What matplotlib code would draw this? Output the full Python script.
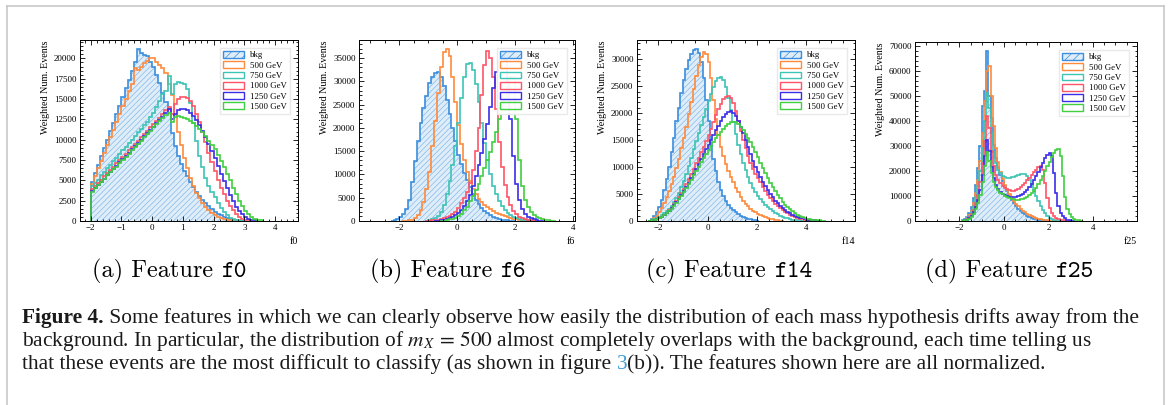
import numpy as np
import matplotlib
matplotlib.use("Agg")
import matplotlib.pyplot as plt
from matplotlib.patches import Patch
from matplotlib.lines import Line2D
from matplotlib.ticker import MultipleLocator

plt.rcParams['font.family'] = ['Liberation Serif', 'DejaVu Serif']
plt.rcParams['mathtext.fontset'] = 'stix'
plt.rcParams['hatch.linewidth'] = 0.5

labels = ["bkg", "500 GeV", "750 GeV", "1000 GeV", "1250 GeV", "1500 GeV"]
colors = ["#3b8ede", "#ff8a3c", "#3cc4b4", "#ff5468", "#3b2ee8", "#3fcf3f"]
BIN = 0.1   # bin width, counts below in thousands of weighted events

# ---- feature f0 (all series start at -2.0)
f0_start = [-2.0, -2.0, -2.0, -2.0, -2.0, -2.0]
f0_bkg = [4.8, 5.9, 6.9, 8.0, 9.0, 10.0, 11.1, 12.1, 13.2, 14.2, 15.3, 16.3, 17.4, 18.4, 19.5,
          21.2, 20.6, 20.4, 20.3, 19.6, 18.9, 18.0, 17.0, 15.8, 14.6, 13.8, 10.8, 9.2, 8.0, 7.0,
          6.2, 5.5, 4.8, 4.2, 3.6, 3.1, 2.6, 2.2, 1.8, 1.45, 1.15, 0.9, 0.7, 0.5, 0.35, 0.25,
          0.17, 0.1, 0.06, 0.03]
f0_500 = [4.6, 5.5, 6.5, 7.4, 8.4, 9.3, 10.3, 11.2, 12.2, 13.1, 14.1, 15.0, 16.0, 16.9, 18.8,
          18.6, 19.0, 19.4, 19.7, 20.1, 20.0, 19.6, 19.2, 18.8, 18.2, 16.8, 15.5, 13.0, 11.0, 9.3,
          7.8, 6.5, 5.3, 4.3, 3.5, 2.8, 2.2, 1.7, 1.3, 1.0, 0.7, 0.5, 0.35, 0.25, 0.15, 0.1,
          0.06, 0.03]
f0_750 = [4.3, 4.7, 5.1, 5.6, 6.0, 6.5, 6.9, 7.4, 7.8, 8.2, 8.7, 9.1, 9.6, 10.0, 10.4, 10.9,
          11.3, 11.8, 12.2, 12.8, 13.3, 14.0, 14.8, 15.6, 16.0, 17.8, 15.6, 16.8, 17.1, 17.0,
          16.8, 16.2, 14.5, 12.0, 9.8, 8.0, 6.6, 5.3, 4.3, 3.6, 2.9, 2.2, 1.6, 1.1, 0.7, 0.4,
          0.25, 0.15, 0.08, 0.04]
f0_1000 = [3.9, 4.3, 4.7, 5.1, 5.5, 5.9, 6.3, 6.7, 7.1, 7.5, 7.9, 8.3, 8.7, 9.1, 9.5, 9.9,
           10.3, 10.7, 11.1, 11.5, 11.9, 12.3, 12.7, 13.1, 13.6, 14.0, 13.2, 14.4, 15.0, 15.3,
           15.3, 15.1, 14.7, 14.1, 13.2, 12.2, 11.0, 9.7, 8.4, 7.2, 6.1, 5.1, 4.1, 3.3, 2.5,
           1.8, 1.3, 0.8, 0.5, 0.3, 0.15, 0.08]
f0_1250 = [3.7, 4.1, 4.4, 4.8, 5.2, 5.6, 6.0, 6.4, 6.8, 7.2, 7.6, 8.0, 8.4, 8.8, 9.2, 9.6,
           10.0, 10.4, 10.8, 11.2, 11.6, 12.0, 12.4, 12.8, 13.3, 13.8, 12.6, 13.2, 13.6, 13.8,
           13.8, 13.6, 13.3, 12.9, 12.4, 11.8, 11.1, 10.3, 9.5, 8.6, 7.7, 6.8, 5.8, 4.9, 4.0,
           3.2, 2.4, 1.7, 1.2, 0.8, 0.5, 0.3, 0.15, 0.07]
f0_1500 = [3.6, 4.0, 4.4, 4.8, 5.2, 5.6, 6.0, 6.4, 6.7, 7.1, 7.5, 7.9, 8.3, 8.7, 9.1, 9.5,
           9.9, 10.3, 10.7, 11.1, 11.5, 11.9, 12.3, 12.7, 13.0, 13.3, 12.2, 12.8, 12.9, 12.8,
           12.7, 12.5, 12.3, 12.0, 11.7, 11.3, 10.9, 10.4, 9.9, 9.4, 8.8, 8.1, 7.4, 6.6, 5.8,
           5.0, 4.1, 3.3, 2.5, 1.8, 1.2, 0.8, 0.5, 0.3, 0.15, 0.07]

# ---- feature f6
f6_start = [-2.3, -1.9, -1.1, -1.1, -0.8, -0.6]
f6_bkg = [0.05, 0.15, 0.4, 0.8, 1.5, 2.5, 4.5, 8.3, 12.8, 17.2, 21.0, 24.3, 26.9, 29.6, 31.0,
          31.8, 32.0, 31.0, 29.0, 26.0, 23.0, 20.0, 17.2, 14.2, 12.2, 10.4, 8.8, 7.2, 5.8, 4.6,
          3.6, 2.8, 2.2, 1.7, 1.3, 0.9, 0.6, 0.45, 0.3, 0.2, 0.15, 0.1, 0.06]
f6_500 = [0.05, 0.1, 0.18, 0.3, 0.7, 1.3, 2.3, 4.0, 6.8, 10.5, 16.0, 21.5, 27.5, 33.0, 36.2,
          37.0, 35.5, 31.0, 25.5, 20.5, 16.5, 13.2, 10.5, 8.5, 6.9, 5.7, 4.8, 4.0, 3.4, 2.9,
          2.5, 2.1, 1.8, 1.5, 1.2, 1.0, 0.8, 0.65, 0.5, 0.4, 0.3, 0.22, 0.16, 0.12, 0.08, 0.05]
f6_750 = [0.1, 0.2, 0.4, 0.7, 1.1, 2.0, 3.5, 5.8, 8.6, 12.0, 16.0, 21.0, 26.5, 31.0, 33.8,
          34.0, 32.5, 29.5, 25.5, 21.0, 16.8, 13.0, 10.0, 7.6, 5.7, 4.3, 3.2, 2.4, 1.7, 1.2,
          0.9, 0.65, 0.45, 0.3, 0.2, 0.13, 0.08, 0.05]
f6_1000 = [0.05, 0.1, 0.15, 0.2, 0.3, 0.45, 0.6, 0.8, 1.1, 1.5, 2.0, 2.8, 3.8, 5.0, 6.3, 8.2,
           11.0, 15.0, 20.0, 27.0, 33.5, 36.5, 35.0, 31.0, 24.0, 17.0, 11.5, 7.8, 5.2, 3.4,
           2.2, 1.4, 0.9, 0.55, 0.35, 0.2, 0.12, 0.07]
f6_1250 = [0.05, 0.1, 0.2, 0.3, 0.45, 0.6, 0.85, 1.2, 1.7, 2.3, 3.2, 4.2, 5.5, 7.5, 9.6, 12.0,
           14.5, 17.5, 20.8, 24.5, 28.5, 32.0, 34.5, 35.5, 34.5, 30.0, 22.0, 14.0, 8.0, 4.5,
           2.6, 1.5, 0.9, 0.55, 0.35, 0.2, 0.1, 0.05]
f6_1500 = [0.05, 0.1, 0.2, 0.35, 0.5, 0.75, 1.1, 1.6, 2.3, 3.1, 4.2, 5.3, 6.6, 8.0, 9.6, 11.3,
           13.0, 14.9, 16.9, 19.2, 21.8, 24.0, 26.5, 29.0, 31.0, 30.5, 22.0, 13.0, 7.5, 4.6,
           3.0, 2.0, 1.3, 0.9, 0.6, 0.4, 0.25, 0.15, 0.1, 0.05]

# ---- feature f14 (all series start at -2.4)
f14_start = [-2.4, -2.4, -2.4, -2.4, -2.4, -2.4]
f14_bkg = [0.05, 0.3, 0.9, 1.6, 2.6, 3.9, 5.8, 7.8, 10.1, 12.8, 15.5, 18.5, 21.0, 23.8, 26.2,
           28.2, 29.8, 31.0, 31.8, 32.0, 31.2, 29.5, 26.5, 22.5, 18.5, 14.5, 11.5, 9.2, 7.3,
           5.8, 4.6, 3.7, 3.0, 2.5, 2.0, 1.6, 1.3, 1.0, 0.8, 0.6, 0.4, 0.3, 0.2, 0.12, 0.07]
f14_500 = [0.05, 0.2, 0.5, 1.0, 1.6, 2.4, 3.3, 4.4, 5.6, 6.9, 8.2, 9.8, 11.6, 13.5, 15.4, 17.5,
           19.8, 22.0, 24.5, 27.0, 29.0, 30.5, 31.3, 31.0, 29.5, 26.5, 22.5, 19.0, 16.0, 13.8,
           12.0, 10.6, 9.3, 8.2, 7.2, 6.2, 5.3, 4.5, 3.8, 3.2, 2.7, 2.3, 1.9, 1.6, 1.3, 1.05,
           0.85, 0.65, 0.5, 0.38, 0.28, 0.2, 0.13, 0.08, 0.05]
f14_750 = [0.05, 0.15, 0.3, 0.5, 0.75, 1.05, 1.4, 1.8, 2.3, 2.8, 3.5, 4.3, 5.2, 6.3, 7.5, 8.8,
           10.2, 11.7, 13.3, 14.8, 16.3, 17.8, 19.3, 20.8, 22.2, 23.6, 24.9, 25.9, 26.5, 26.8,
           26.2, 24.8, 22.8, 20.6, 18.4, 16.2, 14.2, 12.4, 10.8, 9.4, 8.1, 7.0, 6.1, 5.3, 4.6,
           4.0, 3.5, 3.0, 2.6, 2.2, 1.8, 1.5, 1.25, 1.0, 0.8, 0.6, 0.48, 0.36, 0.27, 0.2, 0.14,
           0.1, 0.06]
f14_1000 = [0.05, 0.12, 0.25, 0.4, 0.6, 0.8, 1.1, 1.5, 2.0, 2.5, 3.1, 3.7, 4.4, 5.2, 6.0, 6.9,
            7.8, 8.7, 9.7, 10.7, 11.7, 12.8, 13.8, 14.9, 15.9, 17.0, 18.3, 19.6, 20.8, 21.8,
            22.6, 23.1, 23.2, 22.8, 21.9, 20.4, 18.6, 16.8, 15.0, 13.5, 12.0, 10.8, 9.7, 8.8,
            8.0, 7.2, 6.4, 5.6, 4.9, 4.3, 3.7, 3.2, 2.8, 2.4, 2.0, 1.7, 1.4, 1.1, 0.9, 0.7,
            0.55, 0.42, 0.32, 0.24, 0.17, 0.12, 0.08, 0.05]
f14_1250 = [0.05, 0.12, 0.25, 0.4, 0.6, 0.8, 1.1, 1.5, 1.9, 2.4, 2.9, 3.5, 4.1, 4.8, 5.5, 6.3,
            7.1, 7.9, 8.8, 9.7, 10.6, 11.5, 12.4, 13.3, 14.2, 15.1, 16.0, 16.9, 17.7, 18.5,
            19.3, 19.9, 20.3, 20.4, 20.1, 19.5, 18.6, 17.5, 16.3, 15.0, 13.7, 12.4, 11.2, 10.1,
            9.1, 8.2, 7.3, 6.5, 5.7, 5.0, 4.4, 3.8, 3.3, 2.8, 2.4, 2.0, 1.7, 1.4, 1.15, 0.95,
            0.75, 0.6, 0.47, 0.36, 0.27, 0.2, 0.14, 0.1, 0.06]
f14_1500 = [0.05, 0.12, 0.25, 0.4, 0.6, 0.8, 1.1, 1.45, 1.85, 2.3, 2.8, 3.4, 4.0, 4.7, 5.4, 6.1,
            6.9, 7.7, 8.5, 9.3, 10.1, 10.9, 11.7, 12.5, 13.2, 14.0, 14.7, 15.4, 16.0, 16.6,
            17.1, 17.6, 18.0, 18.3, 18.4, 18.3, 18.0, 17.5, 16.9, 16.2, 15.4, 14.6, 13.7, 12.8,
            11.8, 10.8, 9.8, 8.9, 8.0, 7.1, 6.3, 5.5, 4.8, 4.2, 3.6, 3.0, 2.6, 2.2, 1.8, 1.5,
            1.2, 0.95, 0.75, 0.6, 0.45, 0.35, 0.26, 0.19, 0.14, 0.1, 0.07, 0.05]

# ---- feature f25 (all series start at -1.9)
f25_start = [-1.9, -1.9, -1.9, -1.9, -1.9, -1.9]
f25_bkg = [0.3, 0.7, 1.5, 3.0, 5.5, 9.0, 14.5, 21.0, 30.0, 46.0, 52.0, 68.0, 50.0, 41.0, 30.5,
           25.0, 21.5, 18.5, 16.0, 13.8, 11.8, 10.0, 8.5, 7.1, 5.9, 4.9, 4.0, 3.2, 2.6, 2.0,
           1.6, 1.2, 0.9, 0.65, 0.45, 0.3, 0.2, 0.12, 0.07]
f25_500 = [0.2, 0.5, 1.1, 2.2, 4.0, 7.0, 11.0, 16.5, 24.0, 35.0, 48.0, 60.0, 62.0, 50.0, 38.0,
           29.0, 23.5, 19.5, 16.8, 14.5, 12.5, 10.8, 9.3, 8.0, 6.8, 5.8, 4.9, 4.1, 3.4, 2.8,
           2.3, 1.8, 1.4, 1.1, 0.85, 0.65, 0.5, 0.37, 0.27, 0.19, 0.13, 0.08, 0.05]
f25_750 = [0.2, 0.5, 1.0, 2.0, 3.6, 6.0, 9.5, 14.0, 20.0, 29.0, 40.0, 51.0, 45.0, 35.0, 27.5,
           23.0, 20.5, 19.0, 18.0, 17.5, 17.2, 17.2, 17.4, 17.7, 18.1, 18.5, 18.8, 18.9, 18.6,
           17.8, 16.4, 14.5, 12.3, 10.0, 7.8, 5.9, 4.3, 3.0, 2.0, 1.3, 0.85, 0.55, 0.35, 0.22,
           0.14, 0.08]
f25_1000 = [0.1, 0.3, 0.7, 1.4, 2.6, 4.4, 7.0, 10.5, 15.5, 23.0, 32.0, 42.0, 37.0, 28.0, 22.0,
            18.5, 16.5, 15.0, 14.0, 13.2, 12.6, 12.2, 12.0, 12.1, 12.4, 12.9, 13.5, 14.3, 15.2,
            16.2, 17.3, 18.4, 19.5, 20.5, 21.4, 22.0, 20.5, 15.0, 9.0, 5.2, 3.2, 2.0, 1.3,
            0.85, 0.55, 0.35, 0.22, 0.13, 0.07]
f25_1250 = [0.1, 0.25, 0.55, 1.1, 2.0, 3.4, 5.5, 8.5, 12.5, 18.5, 26.0, 32.5, 28.0, 21.5, 17.0,
            14.5, 12.8, 11.7, 10.9, 10.3, 9.9, 9.6, 9.5, 9.5, 9.6, 9.8, 10.2, 10.8, 11.5, 12.4,
            13.5, 14.8, 16.3, 17.9, 19.6, 21.4, 23.2, 25.0, 26.5, 27.3, 26.0, 19.0, 11.0, 5.8,
            3.2, 1.8, 1.0, 0.55, 0.3, 0.15, 0.08]
f25_1500 = [0.08, 0.2, 0.45, 0.9, 1.7, 2.9, 4.6, 7.0, 10.5, 15.5, 22.0, 27.5, 24.0, 19.0, 15.5,
            13.5, 12.2, 11.3, 10.6, 10.0, 9.5, 9.1, 8.8, 8.6, 8.5, 8.5, 8.6, 8.8, 9.1, 9.6,
            10.2, 11.0, 12.0, 13.2, 14.6, 16.2, 18.0, 19.9, 21.8, 23.7, 25.5, 27.0, 28.2, 28.6,
            26.0, 18.0, 9.5, 4.8, 2.6, 1.4, 0.75, 0.4, 0.2, 0.1]

W, H = 1170, 405
fig = plt.figure(figsize=(W / 100, H / 100), dpi=100)
rend = fig.canvas.get_renderer()

# light grey frame around the figure block
frame = dict(color="#c4c4c4", lw=1.1, transform=fig.transFigure)
fig.add_artist(Line2D([7 / W, 7 / W], [0, 1 - 6 / H], **frame))
fig.add_artist(Line2D([7 / W, 1164 / W], [1 - 6 / H, 1 - 6 / H], **frame))
fig.add_artist(Line2D([1164 / W, 1164 / W], [0, 1 - 6 / H], **frame))

fill_face = (0.23, 0.56, 0.87, 0.16)
hatch_col = (0.23, 0.56, 0.87, 0.55)


def panel(rect, starts, series, xlim, xlabel, xmaj, xmin, ymaj, ymin):
    ax = fig.add_axes([rect[0] / W, 1 - rect[3] / H, (rect[2] - rect[0]) / W, (rect[3] - rect[1]) / H])
    top = 0
    for i, vals in enumerate(series):
        vals = np.asarray(vals) * 1000
        edges = np.round(starts[i] + BIN * np.arange(len(vals) + 1), 3)
        if i == 0:
            ax.stairs(vals, edges, fill=True, facecolor=fill_face, edgecolor=hatch_col,
                      hatch="//////", linewidth=0)
        ax.stairs(vals, edges, color=colors[i], lw=1.2)
        top = max(top, vals.max())
    ax.set_xlim(*xlim)
    ax.set_ylim(0, top * 1.05)
    ax.xaxis.set_major_locator(MultipleLocator(xmaj))
    ax.xaxis.set_minor_locator(MultipleLocator(xmin))
    ax.yaxis.set_major_locator(MultipleLocator(ymaj))
    ax.yaxis.set_minor_locator(MultipleLocator(ymin))
    ax.tick_params(which="both", direction="in", top=True, right=True, labelsize=6.5, pad=2.5,
                   width=0.6)
    ax.tick_params(which="major", length=3.5)
    ax.tick_params(which="minor", length=1.8)
    for s in ax.spines.values():
        s.set_linewidth(0.7)
    ax.set_ylabel("Weighted Num. Events", fontsize=7.2, loc="top", labelpad=3)
    ax.set_xlabel(xlabel, fontsize=7.2, loc="right", labelpad=3)
    handles = [Patch(facecolor=fill_face, edgecolor=colors[0], hatch="////", lw=1.0)]
    handles += [Patch(facecolor="none", edgecolor=c, lw=1.0) for c in colors[1:]]
    ax.legend(handles, labels, loc="upper right", fontsize=6.3, frameon=True, fancybox=False,
              edgecolor="#e8e8e8", framealpha=0.95, handlelength=2.4, handleheight=0.8,
              handletextpad=0.7, labelspacing=0.22, borderpad=0.35, borderaxespad=0.9)
    return ax


panel((80, 40, 298, 221), f0_start, [f0_bkg, f0_500, f0_750, f0_1000, f0_1250, f0_1500],
      (-2.35, 4.75), "f0", 1, 0.2, 2500, 500)
panel((359, 40, 575, 221), f6_start, [f6_bkg, f6_500, f6_750, f6_1000, f6_1250, f6_1500],
      (-3.39, 4.06), "f6", 2, 0.5, 5000, 1000)
panel((637, 40, 855, 221), f14_start, [f14_bkg, f14_500, f14_750, f14_1000, f14_1250, f14_1500],
      (-2.86, 5.98), "f14", 2, 0.5, 5000, 1000)
panel((915, 42, 1137, 221), f25_start, [f25_bkg, f25_500, f25_750, f25_1000, f25_1250, f25_1500],
      (-3.99, 5.97), "f25", 2, 0.5, 10000, 2000)


def width_px(s, **kw):
    t = fig.text(0, 0, s + "|", **kw)
    w = t.get_window_extent(rend).width
    t.remove()
    t = fig.text(0, 0, "|", **kw)
    w -= t.get_window_extent(rend).width
    t.remove()
    return w


def write_row(parts, x, y, **common):
    for s, kw in parts:
        style = dict(common, **kw)
        fig.text(x / W, 1 - y / H, s, ha="left", va="baseline", **style)
        x += width_px(s, **style)
    return x


# sub-captions
sub = [("(a) Feature ", "f0", 169), ("(b) Feature ", "f6", 448),
       ("(c) Feature ", "f14", 729), ("(d) Feature ", "f25", 1009)]
for head, code, cx in sub:
    rm = dict(family="cmr10", size=17.5)
    tt = dict(family="cmtt10", size=17.5)
    total = width_px(head, **rm) + width_px(code, **tt)
    write_row([(head, rm), (code, tt)], cx - total / 2, 277)

# figure caption
line1 = [("Figure 4.", dict(weight="bold")),
         (" Some features in which we can clearly observe how easily the distribution of each "
          "mass hypothesis drifts away from the", {})]
line2 = [("background. In particular, the distribution of $m_X\\,=\\,500$ almost completely overlaps "
          "with the background, each time telling us", {})]
line3 = [("that these events are the most difficult to classify (as shown in figure ", {}),
         ("3", dict(color="#3d9bd6")),
         ("(b)). The features shown here are all normalized.", {})]

ref = sum(width_px(s, size=10, family=["Liberation Serif"], **kw) for s, kw in line1)
size = 10 * 1118 / ref
cap = dict(size=size, family=["Liberation Serif"], color="#1a1a1a")
write_row(line1, 22, 323, **cap)
write_row(line2, 22, 346, **cap)
write_row(line3, 22, 369, **cap)

fig.savefig("out.png", dpi=100)
